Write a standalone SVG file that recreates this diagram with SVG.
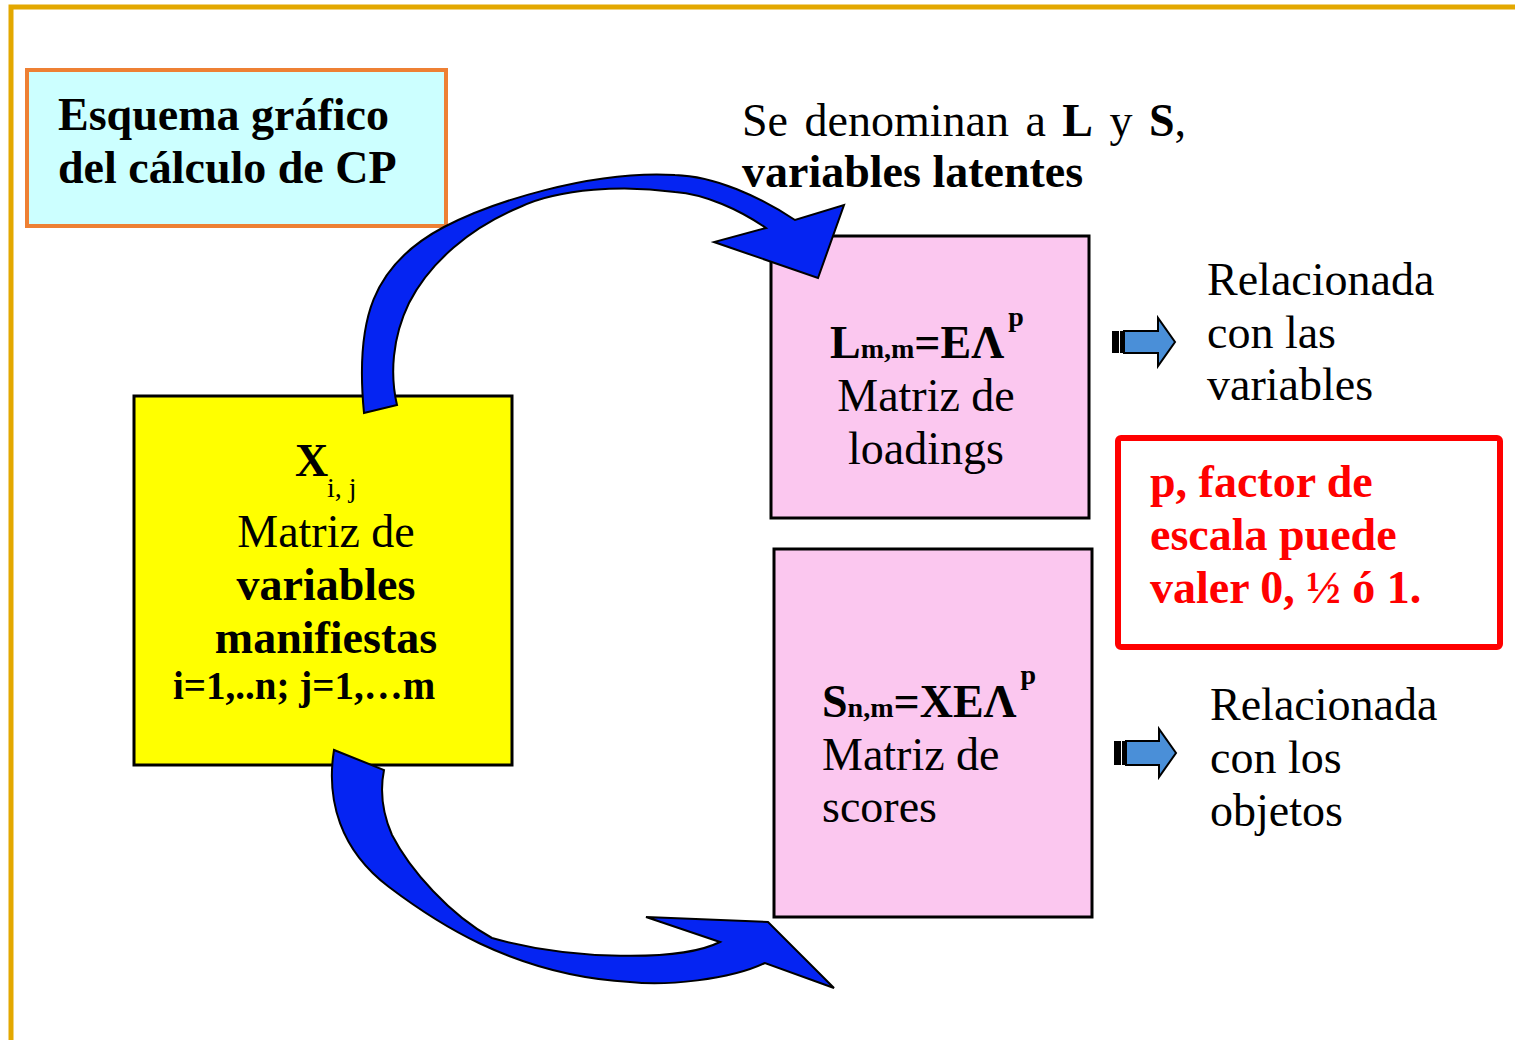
<svg xmlns="http://www.w3.org/2000/svg" width="1515" height="1040" viewBox="0 0 1515 1040">
<style>
text{font-family:"Liberation Serif","Times New Roman",serif;font-size:46px;fill:#000}
.b{font-weight:bold}
.sm{font-size:28px}
.sub{font-size:28px}
.idx{font-size:39px}
.red{fill:#FF0000;font-weight:bold}
.box{stroke:#000;stroke-width:3}
.pink{fill:#FBC7EF}
.big{fill:#0524F2;stroke:#000;stroke-width:2;stroke-linejoin:miter}
.small{fill:#4A8FD8;stroke:#000;stroke-width:2}
</style>
<rect width="1515" height="1040" fill="#FFFFFF"/>
<path d="M11,1040 V7 H1515" fill="none" stroke="#E3A800" stroke-width="5"/>

<g id="title">
<rect x="27" y="70" width="419" height="156" fill="#CCFFFF" stroke="#EE8034" stroke-width="4"/>
<text class="b" x="58" y="130">Esquema gráfico</text>
<text class="b" x="58" y="183">del cálculo de CP</text>
</g>

<g id="latentes">
<text x="742" y="136" word-spacing="5">Se denominan a <tspan class="b">L</tspan> y <tspan class="b">S</tspan>,</text>
<text class="b" x="742" y="187">variables latentes</text>
</g>

<g id="X">
<rect class="box" x="134" y="396" width="378" height="369" fill="#FFFF00"/>
<text class="b" x="295" y="476">X</text>
<text class="sub" x="327" y="497">i, j</text>
<text x="326" y="547" text-anchor="middle">Matriz de</text>
<text class="b" x="326" y="600" text-anchor="middle">variables</text>
<text class="b" x="326" y="653" text-anchor="middle">manifiestas</text>
<text class="b idx" x="173" y="699">i=1,..n; j=1,…m</text>
</g>

<g id="L">
<rect class="box pink" x="771" y="236" width="318" height="282"/>
<text class="b" x="830" y="358">L<tspan class="sm">m,m</tspan>=EΛ<tspan class="sm" dx="4" dy="-32">p</tspan></text>
<text x="926" y="411" text-anchor="middle">Matriz de</text>
<text x="926" y="464" text-anchor="middle">loadings</text>
</g>

<g id="S">
<rect class="box pink" x="774" y="549" width="318" height="368"/>
<text class="b" x="822" y="717">S<tspan class="sm">n,m</tspan>=XEΛ<tspan class="sm" dx="4" dy="-33">p</tspan></text>
<text x="822" y="770">Matriz de</text>
<text x="822" y="822">scores</text>
</g>

<g id="nota">
<rect x="1118" y="438" width="382" height="209" rx="3" fill="none" stroke="#FF0000" stroke-width="6"/>
<text class="red" x="1150" y="497">p, factor de</text>
<text class="red" x="1150" y="550">escala puede</text>
<text class="red" x="1150" y="603">valer 0, ½ ó 1.</text>
</g>

<g id="rel-variables">
<text x="1207" y="295">Relacionada</text>
<text x="1207" y="348">con las</text>
<text x="1207" y="400">variables</text>
</g>

<g id="rel-objetos">
<text x="1210" y="720">Relacionada</text>
<text x="1210" y="773">con los</text>
<text x="1210" y="826">objetos</text>
</g>

<g id="connectors">
<path class="big" d="M364,413 C355,320 372,265 444,227 C490,203 590,170 675,175 C715,176 760,197 795,220 L844,205 L818,278 L714,242 L766,228 C740,210 705,194 675,192 C625,185 560,188 520,207 C470,228 430,262 409,303 C392,338 390,375 397,405 Z"/>
<path class="big" d="M334,750 C326,800 340,850 389,887 C430,918 510,975 630,982 C665,986 730,980 765,963 L834,988 L768,922 L646,917 L720,942 C680,962 570,960 492,938 C450,915 410,870 392,835 C382,812 380,790 384,770 Z"/>
<g>
<rect x="1112" y="331" width="7" height="22" fill="#000"/>
<rect x="1120" y="331" width="3" height="22" fill="#000"/>
<path class="small" d="M1124,331 H1158 V318 L1175,342 L1158,366 V353 H1124 Z"/>
</g>
<g>
<rect x="1114" y="741" width="7" height="24" fill="#000"/>
<rect x="1122" y="741" width="3" height="24" fill="#000"/>
<path class="small" d="M1126,741 H1159 V729 L1176,753 L1159,777 V765 H1126 Z"/>
</g>
</g>
</svg>
